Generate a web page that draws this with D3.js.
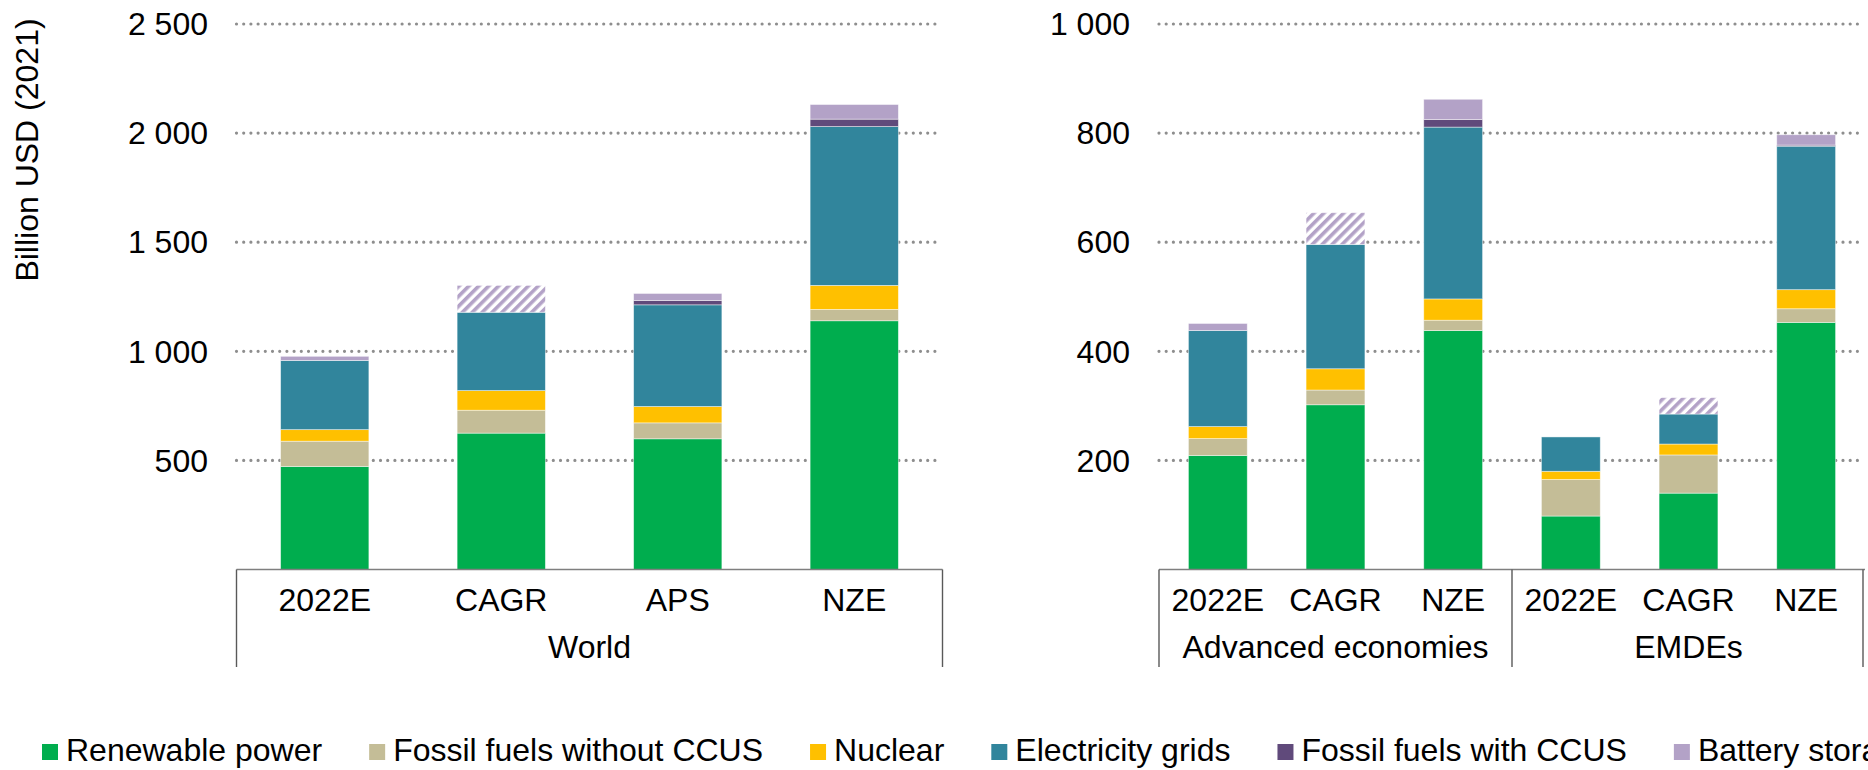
<!DOCTYPE html>
<html>
<head>
<meta charset="utf-8">
<title>Power sector investment</title>
<script src="https://cdn.jsdelivr.net/npm/d3@7"></script>
<style>
  body { margin: 0; background: #fff; }
  svg { display: block; font-family: "Liberation Sans", Arial, sans-serif; }
</style>
</head>
<body>
<div id="chart"></div>
<script>
// series (stack order, bottom to top)
const seriesNames = ["Renewable power", "Fossil fuels without CCUS", "Nuclear", "Electricity grids", "Fossil fuels with CCUS", "Battery storage"];
const seriesColors = ["#00AD4E", "#C4BD97", "#FFC000", "#31859C", "#604A7B", "#B3A2C7"];

// World panel
const worldCats = ["2022E", "CAGR", "APS", "NZE"];
const worldRenewable = [472, 625, 599, 1140];
const worldFossil = [116, 105, 73, 52];
const worldNuclear = [53, 90, 75, 110];
const worldGrids = [317, 359, 466, 728];
const worldCCUS = [0, 0, 20, 34];
const worldBattery = [19, 123, 32, 67];
const worldTicks = [500, 1000, 1500, 2000, 2500];

// Advanced economies / EMDEs panel
const regionGroups = ["Advanced economies", "EMDEs"];
const regionCats = ["2022E", "CAGR", "NZE", "2022E", "CAGR", "NZE"];
const regionRenewable = [209, 302, 438, 98, 140, 453];
const regionFossil = [31, 27, 19, 67, 70, 25];
const regionNuclear = [22, 39, 39, 15, 20, 35];
const regionGrids = [176, 228, 315, 63, 55, 263];
const regionCCUS = [0, 0, 14, 0, 0, 2];
const regionBattery = [13, 58, 37, 0, 30, 19];
const regionTicks = [200, 400, 600, 800, 1000];

// the CAGR battery segment is drawn hatched
const hatchedCat = "CAGR";

const width = 1868, height = 770;
const plotTop = 24, base = 569.5;
const fontSize = 32;

const svg = d3.select("#chart").append("svg")
    .attr("width", width)
    .attr("height", height);

const defs = svg.append("defs");
const pat = defs.append("pattern")
    .attr("id", "hatch")
    .attr("patternUnits", "userSpaceOnUse")
    .attr("width", 7)
    .attr("height", 7)
    .attr("patternTransform", "rotate(45)");
pat.append("rect").attr("width", 7).attr("height", 7).attr("fill", "#fff");
pat.append("rect").attr("width", 3.6).attr("height", 7).attr("fill", "#B3A2C7");

const fmt = d3.formatLocale({decimal: ".", thousands: " ", grouping: [3], currency: ["", ""]}).format(",");

function panel(cats, cols, ticks, yMax, x0, x1, labelRight) {
  const keys = cats.map((c, i) => i);
  const rows = keys.map(i => {
    const r = {idx: i, cat: cats[i]};
    cols.forEach((col, s) => r[seriesNames[s]] = col[i]);
    return r;
  });

  const x = d3.scaleBand().domain(keys).range([x0, x1]).paddingInner(0.5).paddingOuter(0.25);
  const y = d3.scaleLinear().domain([0, yMax]).range([base, plotTop]);

  const g = svg.append("g");

  // gridlines
  g.selectAll(".grid").data(ticks).enter().append("line")
      .attr("x1", x0).attr("x2", x1 - 2)
      .attr("y1", d => y(d)).attr("y2", d => y(d))
      .attr("stroke", "#8E8E8E")
      .attr("stroke-width", 3.2)
      .attr("stroke-linecap", "round")
      .attr("stroke-dasharray", "0 7.2");

  // tick labels
  g.selectAll(".tick").data(ticks).enter().append("text")
      .attr("x", labelRight)
      .attr("y", d => y(d))
      .attr("dy", "0.35em")
      .attr("text-anchor", "end")
      .attr("font-size", fontSize)
      .attr("fill", "#000")
      .text(d => fmt(d));

  const stacked = d3.stack().keys(seriesNames)(rows);

  g.selectAll(".layer").data(stacked).enter().append("g")
    .each(function(layer, s) {
      d3.select(this).selectAll("rect").data(layer).enter().append("rect")
        .attr("x", d => x(d.data.idx))
        .attr("width", x.bandwidth())
        .attr("y", d => y(d[1]))
        .attr("height", d => y(d[0]) - y(d[1]))
        .attr("fill", d => (s === 5 && d.data.cat === hatchedCat) ? "url(#hatch)" : seriesColors[s])
        .attr("stroke", "#fff")
        .attr("stroke-opacity", 0.55)
        .attr("stroke-width", d => (d[1] - d[0]) > 0 ? 0.8 : 0);
    });

  // category labels
  g.selectAll(".cat").data(rows).enter().append("text")
      .attr("x", d => x(d.idx) + x.bandwidth() / 2)
      .attr("y", 610.5)
      .attr("text-anchor", "middle")
      .attr("font-size", fontSize)
      .text(d => d.cat);

  // baseline
  g.append("line")
      .attr("x1", x0).attr("x2", x1)
      .attr("y1", base).attr("y2", base)
      .attr("stroke", "#7F7F7F").attr("stroke-width", 1.6);

  return x;
}

function frameLine(xp) {
  svg.append("line")
      .attr("x1", xp).attr("x2", xp)
      .attr("y1", base).attr("y2", 667)
      .attr("stroke", "#595959").attr("stroke-width", 1.4);
}

function groupLabel(text, xa, xb) {
  svg.append("text")
      .attr("x", (xa + xb) / 2)
      .attr("y", 658)
      .attr("text-anchor", "middle")
      .attr("font-size", fontSize)
      .text(text);
}

// left panel
const wx0 = 236.5, wx1 = 942.5;
panel(worldCats,
      [worldRenewable, worldFossil, worldNuclear, worldGrids, worldCCUS, worldBattery],
      worldTicks, 2500, wx0, wx1, 208);
frameLine(wx0); frameLine(wx1);
groupLabel("World", wx0, wx1);

// right panel
const rx0 = 1159, rx1 = 1865;
panel(regionCats,
      [regionRenewable, regionFossil, regionNuclear, regionGrids, regionCCUS, regionBattery],
      regionTicks, 1000, rx0, rx1, 1130);
const rMid = (rx0 + rx1) / 2;
frameLine(rx0); frameLine(rMid); frameLine(rx1 - 2);
groupLabel(regionGroups[0], rx0, rMid);
groupLabel(regionGroups[1], rMid, rx1);

// y-axis title
svg.append("text")
    .attr("transform", "translate(38,150) rotate(-90)")
    .attr("text-anchor", "middle")
    .attr("font-size", fontSize)
    .text("Billion USD (2021)");

// legend
const legend = svg.append("g");
let lx = 42;
seriesNames.forEach((name, i) => {
  legend.append("rect")
      .attr("x", lx).attr("y", 744)
      .attr("width", 16).attr("height", 16)
      .attr("fill", seriesColors[i]);
  const t = legend.append("text")
      .attr("x", lx + 24).attr("y", 761)
      .attr("font-size", fontSize)
      .text(name);
  lx += 24 + t.node().getComputedTextLength() + 47;
});
</script>
</body>
</html>
